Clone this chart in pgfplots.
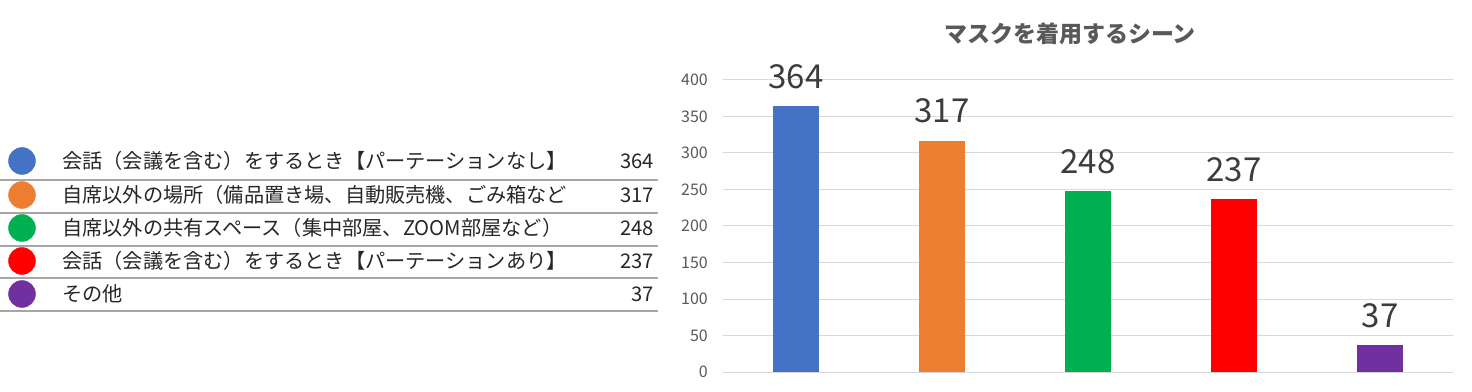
\documentclass[border=0pt]{standalone}
\usepackage{pgfplots}
\pgfplotsset{compat=1.18}
\usepackage{fontspec}
\setmainfont{Noto Sans CJK JP}
\definecolor{cblue}{HTML}{4472C4}
\definecolor{corange}{HTML}{ED7D31}
\definecolor{cgreen}{HTML}{00B050}
\definecolor{cred}{HTML}{FF0000}
\definecolor{cpurple}{HTML}{7030A0}
\definecolor{gridc}{HTML}{D9D9D9}
\definecolor{tickc}{HTML}{595959}
\definecolor{txtc}{HTML}{262626}
\definecolor{linec}{HTML}{A6A6A6}
\begin{document}
\begin{tikzpicture}
\useasboundingbox (0,0) rectangle (1472pt,391pt);
% ---------- left: legend table ----------
\begin{axis}[at={(0pt,0pt)}, anchor=south west, scale only axis,
  width=658pt, height=391pt, xmin=0, xmax=658, ymin=0, ymax=391,
  hide axis, clip=false]
\addplot[only marks, mark=*, mark size=13.5pt, color=cblue] coordinates {(22,230)};
\addplot[only marks, mark=*, mark size=13.5pt, color=corange] coordinates {(22,196)};
\addplot[only marks, mark=*, mark size=13.5pt, color=cgreen] coordinates {(22,163)};
\addplot[only marks, mark=*, mark size=13.5pt, color=cred] coordinates {(22,130)};
\addplot[only marks, mark=*, mark size=13.5pt, color=cpurple] coordinates {(22,97)};
\draw[linec, line width=1.6pt] (axis cs:0,211) -- (axis cs:658,211);
\draw[linec, line width=1.6pt] (axis cs:0,178) -- (axis cs:658,178);
\draw[linec, line width=1.6pt] (axis cs:0,145) -- (axis cs:658,145);
\draw[linec, line width=1.6pt] (axis cs:0,113) -- (axis cs:658,113);
\draw[linec, line width=1.6pt] (axis cs:0,80) -- (axis cs:658,80);
\begin{scope}[every node/.style={font=\fontsize{20.2pt}{24pt}\selectfont, text=txtc, inner sep=0pt}]
\node[anchor=west] at (axis cs:62,230) {会話（会議を含む）をするとき【パーテーションなし】};
\node[anchor=west] at (axis cs:62,196) {自席以外の場所（備品置き場、自動販売機、ごみ箱など};
\node[anchor=west] at (axis cs:62,163) {自席以外の共有スペース（集中部屋、ZOOM部屋など）};
\node[anchor=west] at (axis cs:62,130) {会話（会議を含む）をするとき【パーテーションあり】};
\node[anchor=west] at (axis cs:62,97) {その他};
\node[anchor=east] at (axis cs:654,230) {364};
\node[anchor=east] at (axis cs:654,196) {317};
\node[anchor=east] at (axis cs:654,163) {248};
\node[anchor=east] at (axis cs:654,130) {237};
\node[anchor=east] at (axis cs:654,97) {37};
\end{scope}
\end{axis}
% ---------- right: bar chart ----------
\node[font=\bfseries\fontsize{23pt}{27pt}\selectfont, text=tickc] at (1070pt,357pt) {マスクを着用するシーン};
\begin{axis}[at={(723pt,19pt)}, anchor=south west, scale only axis,
  width=730pt, height=292pt,
  xmin=-0.5, xmax=4.5, ymin=0, ymax=400,
  ytick={0,50,...,400}, xtick=\empty,
  ymajorgrids, grid style={gridc, line width=1pt},
  axis line style={draw=none}, major tick length=0pt,
  /pgf/number format/assume math mode=true,
  yticklabel style={font=\fontsize{16pt}{19pt}\selectfont, text=tickc, inner sep=0pt, xshift=-15pt},
  clip=false,
  every node near coord/.append style={font=\fontsize{33pt}{36pt}\selectfont, text=txtc!90, anchor=south, inner sep=0pt, yshift=17pt},
  ]
\addplot[ybar, bar shift=0pt, bar width=46pt, fill=cblue, draw=none, nodes near coords] coordinates {(0,364)};
\addplot[ybar, bar shift=0pt, bar width=46pt, fill=corange, draw=none, nodes near coords] coordinates {(1,317)};
\addplot[ybar, bar shift=0pt, bar width=46pt, fill=cgreen, draw=none, nodes near coords] coordinates {(2,248)};
\addplot[ybar, bar shift=0pt, bar width=46pt, fill=cred, draw=none, nodes near coords] coordinates {(3,237)};
\addplot[ybar, bar shift=0pt, bar width=46pt, fill=cpurple, draw=none, nodes near coords] coordinates {(4,37)};
\end{axis}
\end{tikzpicture}
\end{document}
